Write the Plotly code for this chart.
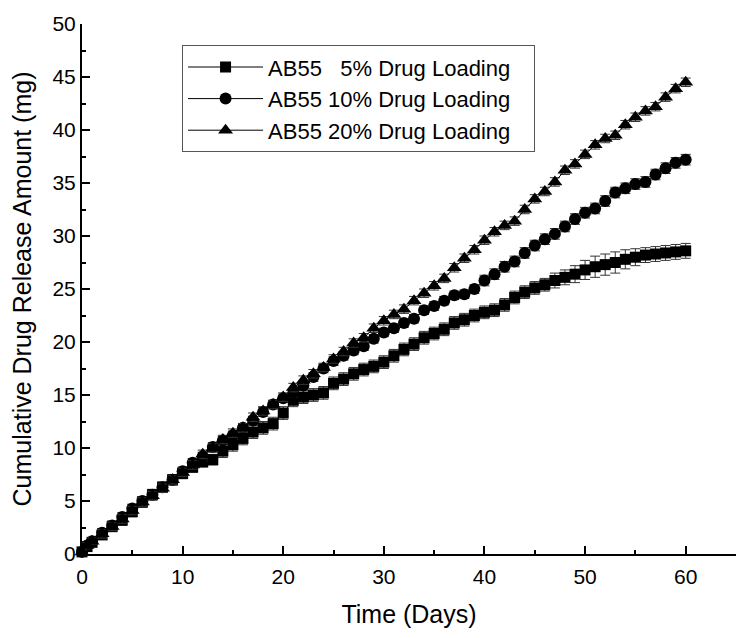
import plotly.graph_objects as go

days = [0, 0.5] + list(range(1, 61))

load5 = [0.2, 0.7, 1.1, 1.8, 2.6, 3.2, 4.0, 4.9, 5.6, 6.3, 7.0, 7.6, 8.2, 8.7, 8.9, 9.7,
         10.3, 10.9, 11.5, 11.9, 12.3, 13.3, 14.5, 14.8, 15.0, 15.2, 16.1, 16.5, 17.0, 17.4,
         17.7, 18.1, 18.7, 19.3, 19.8, 20.4, 20.8, 21.2, 21.8, 22.1, 22.5, 22.8, 23.0, 23.5,
         24.2, 24.7, 25.1, 25.4, 25.8, 26.1, 26.4, 26.8, 27.1, 27.3, 27.5, 27.8, 28.0, 28.2,
         28.3, 28.4, 28.5, 28.6]
err5 = [0.2, 0.3, 0.4, 0.4, 0.5, 0.5, 0.5, 0.5, 0.5, 0.5, 0.5, 0.5, 0.5, 0.5, 0.5, 0.6,
        0.6, 0.6, 0.6, 0.6, 0.6, 0.6, 0.6, 0.6, 0.6, 0.6, 0.6, 0.6, 0.6, 0.6,
        0.6, 0.6, 0.6, 0.6, 0.6, 0.6, 0.6, 0.6, 0.6, 0.6, 0.6, 0.6, 0.6, 0.6,
        0.6, 0.6, 0.6, 0.6, 0.7, 0.7, 0.8, 0.9, 1.0, 1.0, 1.0, 0.9, 0.8, 0.7,
        0.7, 0.7, 0.7, 0.7]

load10 = [0.2, 0.8, 1.2, 2.0, 2.7, 3.5, 4.3, 5.0, 5.6, 6.3, 7.0, 7.8, 8.6, 9.2, 10.1, 10.7,
          11.2, 11.9, 12.6, 13.4, 14.1, 14.7, 15.2, 15.9, 16.7, 17.5, 18.2, 18.7, 19.2, 19.6,
          20.3, 20.9, 21.3, 21.8, 22.2, 23.0, 23.4, 23.9, 24.4, 24.5, 25.0, 25.8, 26.4, 27.1,
          27.6, 28.4, 29.1, 29.7, 30.2, 30.9, 31.6, 32.2, 32.6, 33.3, 34.1, 34.5, 34.9, 35.1,
          35.8, 36.4, 36.9, 37.2]
err10 = [0.2, 0.3, 0.3, 0.4, 0.4, 0.4, 0.4, 0.4, 0.4, 0.4, 0.4, 0.4, 0.4, 0.4, 0.4, 0.4,
         0.4, 0.4, 0.4, 0.4, 0.4, 0.4, 0.4, 0.4, 0.4, 0.4, 0.4, 0.4, 0.4, 0.4,
         0.4, 0.4, 0.4, 0.4, 0.4, 0.4, 0.4, 0.4, 0.4, 0.4, 0.4, 0.5, 0.5, 0.5,
         0.5, 0.5, 0.5, 0.5, 0.5, 0.5, 0.5, 0.5, 0.5, 0.5, 0.5, 0.5, 0.5, 0.5,
         0.5, 0.5, 0.5, 0.5]

load20 = [0.2, 0.8, 1.2, 1.9, 2.6, 3.3, 4.1, 4.9, 5.5, 6.2, 7.0, 7.7, 8.4, 9.4, 10.0, 10.8,
          11.4, 11.9, 12.9, 13.5, 14.1, 14.8, 15.7, 16.4, 17.0, 17.6, 18.4, 19.1, 19.9, 20.4,
          21.3, 22.0, 22.6, 23.1, 23.9, 24.6, 25.3, 26.0, 27.0, 27.9, 28.7, 29.6, 30.4, 31.0,
          31.4, 32.5, 33.5, 34.2, 35.1, 36.2, 36.8, 37.7, 38.6, 39.2, 39.5, 40.5, 41.2, 41.8,
          42.2, 43.1, 43.9, 44.5]
err20 = [0.2, 0.3, 0.3, 0.4, 0.4, 0.4, 0.4, 0.4, 0.4, 0.4, 0.4, 0.4, 0.4, 0.4, 0.4, 0.4,
         0.4, 0.4, 0.4, 0.4, 0.4, 0.4, 0.4, 0.4, 0.4, 0.4, 0.4, 0.4, 0.4, 0.4,
         0.4, 0.4, 0.4, 0.4, 0.4, 0.4, 0.4, 0.4, 0.4, 0.4, 0.4, 0.4, 0.4, 0.4,
         0.4, 0.4, 0.4, 0.4, 0.4, 0.4, 0.4, 0.4, 0.4, 0.4, 0.4, 0.4, 0.4, 0.4,
         0.4, 0.4, 0.4, 0.4]

names = ["AB55 \u00a0\u00a05% Drug Loading", "AB55 10% Drug Loading", "AB55 20% Drug Loading"]
symbols = ["square", "circle", "triangle-up"]
sizes = [11, 12, 13]

FONT = "Liberation Sans, Arial, sans-serif"
PAD = "\u00a0" * 3

fig = go.Figure()
for yv, ev, nm, sym, sz in zip([load5, load10, load20], [err5, err10, err20], names, symbols, sizes):
    fig.add_trace(go.Scatter(
        x=days, y=yv, name=nm + PAD, mode="lines+markers",
        line=dict(color="black", width=1),
        marker=dict(symbol=sym, size=sz, color="black"),
        error_y=dict(type="data", array=ev, visible=True, color="#333333", thickness=1, width=5),
        cliponaxis=False,
    ))

fig.update_layout(
    width=736, height=630,
    margin=dict(l=74, r=8, t=16, b=84, autoexpand=False),
    paper_bgcolor="white", plot_bgcolor="white",
    font=dict(family=FONT, color="black", size=21),
    showlegend=True,
    legend=dict(
        x=0.153, y=0.96, xanchor="left", yanchor="top",
        bgcolor="white", bordercolor="#555555", borderwidth=1,
        font=dict(size=22, family=FONT), itemwidth=75,
        tracegroupgap=0,
    ),
    xaxis=dict(
        range=[0, 65], dtick=10, tick0=0, automargin=False,
        showline=True, linecolor="black", linewidth=2,
        ticks="inside", ticklen=8, tickwidth=2, tickcolor="black",
        minor=dict(dtick=5, ticks="inside", ticklen=4, tickwidth=2, tickcolor="black"),
        showgrid=False, zeroline=False,
        tickfont=dict(size=21), ticklabelstandoff=3,
        title=dict(text="Time (Days)", font=dict(size=25), standoff=18),
    ),
    yaxis=dict(
        range=[0, 50], dtick=5, tick0=0, automargin=False,
        showline=True, linecolor="black", linewidth=2,
        ticks="inside", ticklen=8, tickwidth=2, tickcolor="black",
        minor=dict(dtick=2.5, ticks="inside", ticklen=4, tickwidth=2, tickcolor="black"),
        showgrid=False, zeroline=False,
        tickfont=dict(size=21),
        title=dict(text="Cumulative Drug Release Amount (mg)" + "\u00a0" * 4,
                   font=dict(size=25), standoff=16),
    ),
)

fig.write_html("out.html")
